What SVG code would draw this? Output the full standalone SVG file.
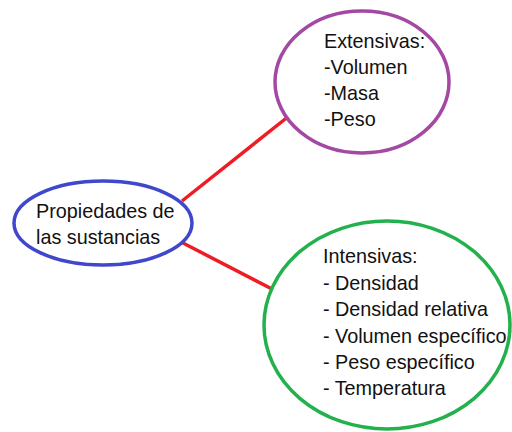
<svg xmlns="http://www.w3.org/2000/svg" width="512" height="432" viewBox="0 0 512 432">
<style>
text{font-family:"Liberation Sans",Arial,sans-serif;font-size:19.8px;fill:#111}
.conn line{stroke:#ee1c24;stroke-width:3.5}
ellipse{fill:#fff;stroke-width:3.5}
</style>
<rect width="512" height="432" fill="#fff"/>
<g class="conn">
<line x1="182" y1="201" x2="289" y2="116"/>
<line x1="183" y1="243" x2="272" y2="289"/>
</g>
<g id="root">
<ellipse cx="103" cy="223" rx="89" ry="42" stroke="#3f48cc"/>
<text x="36" y="218">Propiedades de</text>
<text x="36" y="244">las sustancias</text>
</g>
<g id="extensivas">
<ellipse cx="362" cy="82" rx="87" ry="71" stroke="#a349a4"/>
<text x="324" y="48">Extensivas:</text>
<text x="324" y="74">-Volumen</text>
<text x="324" y="100">-Masa</text>
<text x="324" y="126">-Peso</text>
</g>
<g id="intensivas">
<ellipse cx="387" cy="325" rx="123" ry="104" stroke="#22b14c"/>
<text x="323" y="263">Intensivas:</text>
<text x="323" y="290">- Densidad</text>
<text x="323" y="316">- Densidad relativa</text>
<text x="323" y="343">- Volumen específico</text>
<text x="323" y="369">- Peso específico</text>
<text x="323" y="395">- Temperatura</text>
</g>
</svg>
